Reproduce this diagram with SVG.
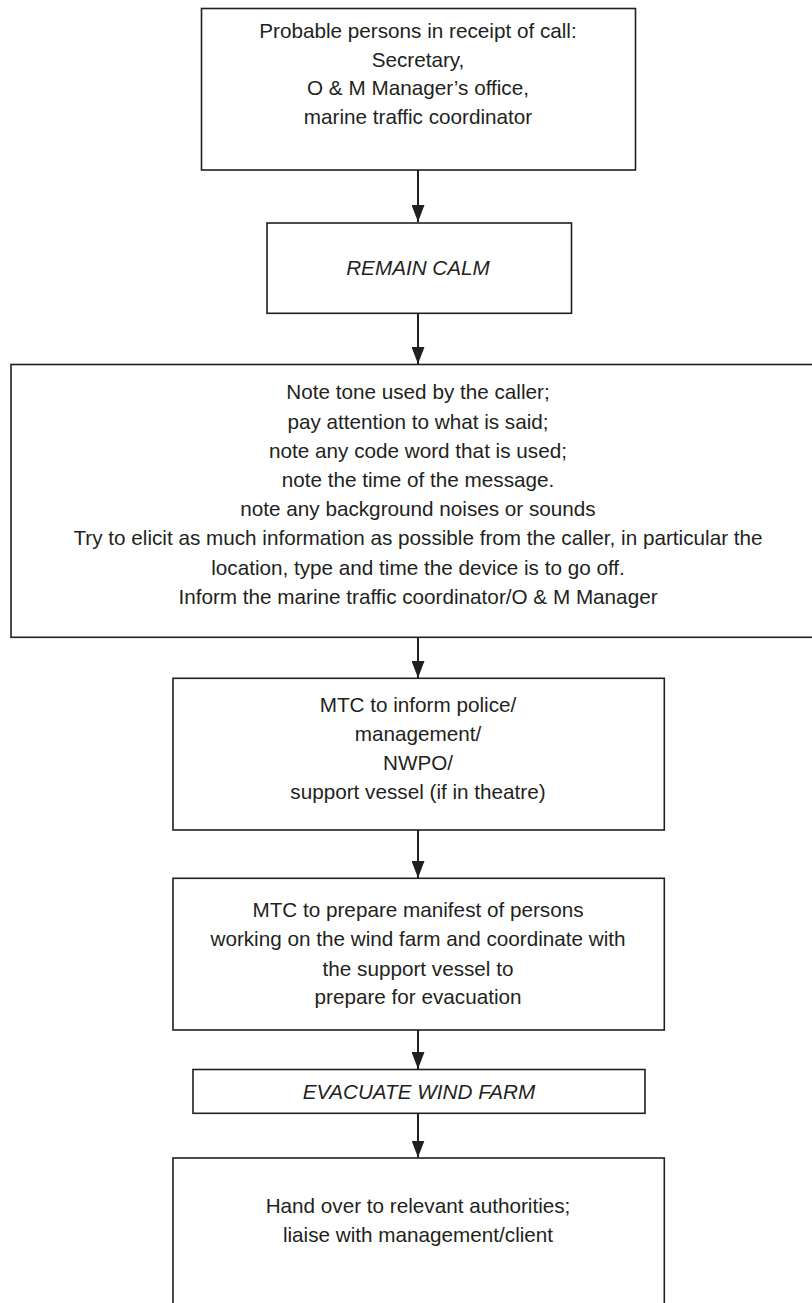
<svg xmlns="http://www.w3.org/2000/svg" width="812" height="1303" viewBox="0 0 812 1303">
<style>
.box{fill:#fff;stroke:#231f20;stroke-width:1.6}
.t{font-family:"Liberation Sans",Arial,sans-serif;font-size:20.7px;fill:#231f20;text-anchor:middle}
.i{font-style:italic}
.c{stroke:#231f20;stroke-width:2;fill:none;marker-end:url(#ah)}
</style>
<defs>
<marker id="ah" viewBox="0 0 17 13" refX="17" refY="6.5" markerWidth="17" markerHeight="13" markerUnits="userSpaceOnUse" orient="auto">
<path d="M0,0 L17,6.5 L0,13 Z" fill="#231f20"/>
</marker>
</defs>
<rect width="812" height="1303" fill="#fff"/>
<g id="connectors">
<line class="c" x1="418" y1="170" x2="418" y2="222"/>
<line class="c" x1="418" y1="313" x2="418" y2="364"/>
<line class="c" x1="418" y1="637" x2="418" y2="678"/>
<line class="c" x1="418" y1="830" x2="418" y2="878"/>
<line class="c" x1="418" y1="1030" x2="418" y2="1069"/>
<line class="c" x1="418" y1="1113" x2="418" y2="1157.5"/>
</g>
<g id="n1">
<rect class="box" x="201.5" y="8.5" width="434" height="161.5"/>
<text class="t" x="418" y="38">Probable persons in receipt of call:</text>
<text class="t" x="418" y="66.5">Secretary,</text>
<text class="t" x="418" y="95">O &amp; M Manager’s office,</text>
<text class="t" x="418" y="123.5">marine traffic coordinator</text>
</g>
<g id="n2">
<rect class="box" x="267" y="223" width="304.5" height="90.3"/>
<text class="t i" x="418" y="275">REMAIN CALM</text>
</g>
<g id="n3">
<rect class="box" x="11" y="364.5" width="810" height="272.8"/>
<text class="t" x="418" y="399.3">Note tone used by the caller;</text>
<text class="t" x="418" y="428.5">pay attention to what is said;</text>
<text class="t" x="418" y="457.7">note any code word that is used;</text>
<text class="t" x="418" y="486.9">note the time of the message.</text>
<text class="t" x="418" y="516.1">note any background noises or sounds</text>
<text class="t" x="418" y="545.3">Try to elicit as much information as possible from the caller, in particular the</text>
<text class="t" x="418" y="574.5">location, type and time the device is to go off.</text>
<text class="t" x="418" y="603.7">Inform the marine traffic coordinator/O &amp; M Manager</text>
</g>
<g id="n4">
<rect class="box" x="173" y="678.3" width="491.3" height="151.7"/>
<text class="t" x="418" y="712.3">MTC to inform police/</text>
<text class="t" x="418" y="741">management/</text>
<text class="t" x="418" y="770">NWPO/</text>
<text class="t" x="418" y="799">support vessel (if in theatre)</text>
</g>
<g id="n5">
<rect class="box" x="173" y="878.3" width="491.3" height="151.7"/>
<text class="t" x="418" y="916.7">MTC to prepare manifest of persons</text>
<text class="t" x="418" y="946">working on the wind farm and coordinate with</text>
<text class="t" x="418" y="975.7">the support vessel to</text>
<text class="t" x="418" y="1004">prepare for evacuation</text>
</g>
<g id="n6">
<rect class="box" x="193" y="1069.5" width="452" height="43.8"/>
<text class="t i" x="419" y="1099.3">EVACUATE WIND FARM</text>
</g>
<g id="n7">
<rect class="box" x="173" y="1158" width="491.3" height="170"/>
<text class="t" x="418" y="1213.3">Hand over to relevant authorities;</text>
<text class="t" x="418" y="1241.7">liaise with management/client</text>
</g>
</svg>
